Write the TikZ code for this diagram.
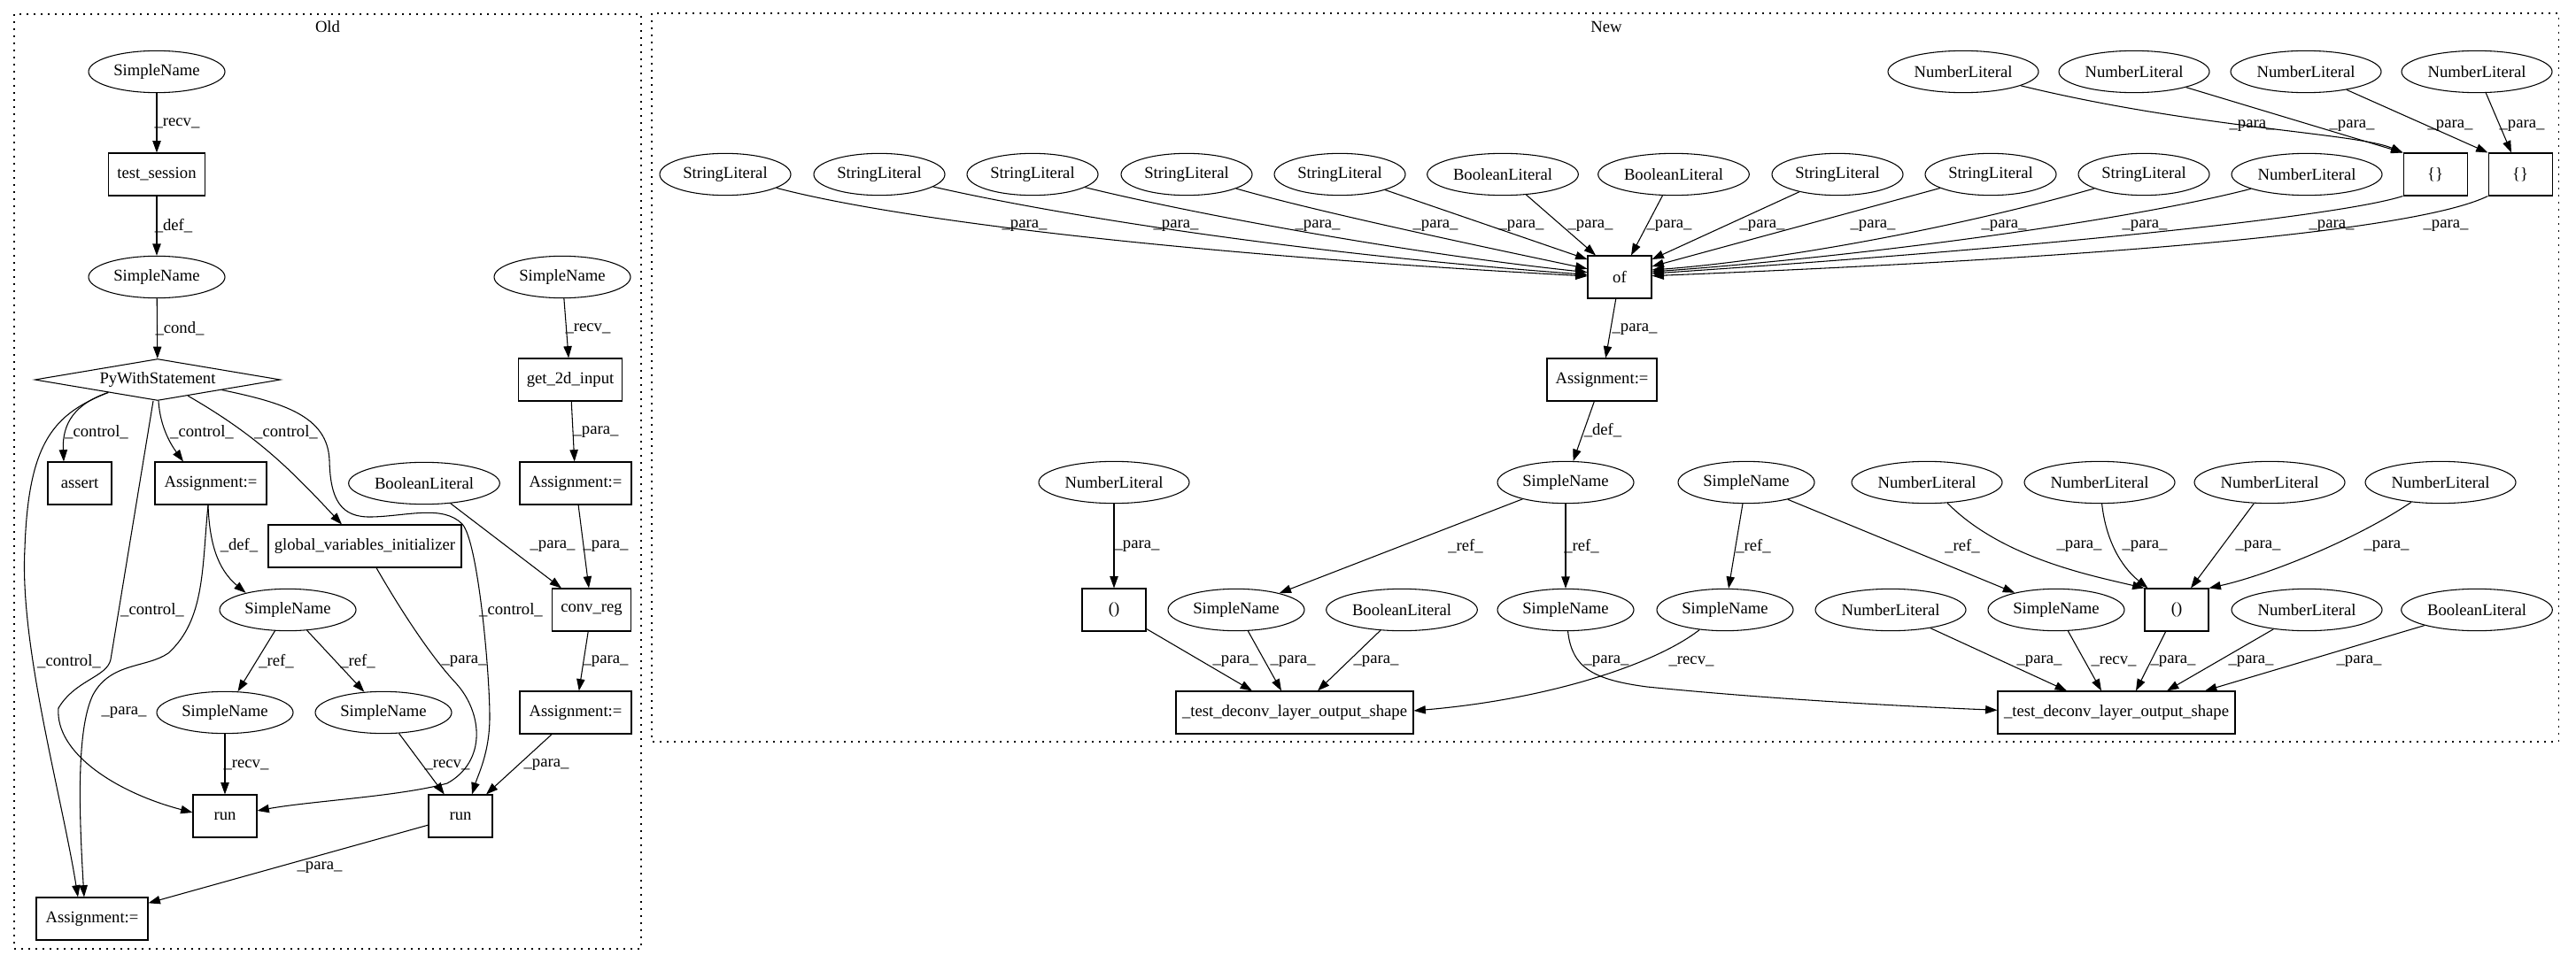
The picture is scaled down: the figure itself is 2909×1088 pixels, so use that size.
\documentclass[tikz,border=0pt]{standalone}
\usepackage{fontspec}
\setmainfont{Liberation Serif}
\usetikzlibrary{shapes.geometric,arrows.meta,calc}
\begin{document}
\begin{tikzpicture}[x=0.75pt,y=-0.75pt,
  every node/.style={font=\fontsize{14pt}{16pt}\selectfont, inner sep=0pt},
  ell/.style={ellipse,draw,line width=0.8pt,minimum height=35.5pt},
  sn/.style={ell,minimum width=115.5pt},
  nl/.style={ell,minimum width=127.5pt},
  sl/.style={ell,minimum width=111pt},
  bl/.style={ell,minimum width=128pt},
  box/.style={rectangle,draw,line width=0.8pt,minimum height=36pt,minimum width=54pt},
  dia/.style={diamond,draw,line width=0.8pt,aspect=5.9,minimum width=208pt,minimum height=35.25pt},
  lbl/.style={fill=none},
  edge/.style={-{Triangle[length=10pt,width=7pt]},line width=0.8pt},
  cluster/.style={draw,line width=0.8pt,dash pattern=on 1.5pt off 4.5pt}
]
\useasboundingbox (0,0) rectangle (2909,1088);
\fill[white] (0,0) rectangle (2909,1088);

% clusters
\draw[cluster] (16,16) rectangle (724,1072);
\node (lold) at (370,30) {Old};
\draw[cluster] (736,15) rectangle (2889,838);
\node (lnew) at (1814,30) {New};

% ---------------- Old ----------------
\node[sn] (o_sn1) at (177,81) {SimpleName};
\node[box,minimum width=81.75pt] (o_ts) at (177,197) {test\_session};
\node[sn] (o_sn2) at (177,313) {SimpleName};
\node[dia] (o_pw) at (178,429) {PyWithStatement};
\node[sn] (o_sn3) at (635,313) {SimpleName};
\node[box,minimum width=87.75pt] (o_g2d) at (644,429) {get\_2d\_input};
\node[box] (o_as) at (90,546) {assert};
\node[box,minimum width=94.5pt] (o_a1) at (238,546) {Assignment:=};
\node[bl] (o_bl) at (479,546) {BooleanLiteral};
\node[box,minimum width=94.5pt] (o_a2) at (650,546) {Assignment:=};
\node[box,minimum width=163.5pt] (o_gvi) at (412,617) {global\_variables\_initializer};
\node[sn] (o_sn4) at (325,689) {SimpleName};
\node[box,minimum width=66.75pt] (o_cr) at (668,689) {conv\_reg};
\node[sn] (o_sn5) at (254,805) {SimpleName};
\node[sn] (o_sn6) at (433,805) {SimpleName};
\node[box,minimum width=94.5pt] (o_a3) at (650,805) {Assignment:=};
\node[box] (o_run1) at (254,922) {run};
\node[box] (o_run2) at (520,922) {run};
\node[box,minimum width=94.5pt] (o_a4) at (104,1038) {Assignment:=};

\draw[edge] (o_sn1) -- (o_ts) node[lbl] at (200,139) {\_recv\_};
\draw[edge] (o_ts) -- (o_sn2) node[lbl] at (196,255) {\_def\_};
\draw[edge] (o_sn2) -- (o_pw) node[lbl] at (203,371) {\_cond\_};
\draw[edge] (o_sn3) -- (o_g2d) node[lbl] at (664,371) {\_recv\_};
\draw[edge] (o_g2d) -- (o_a2) node[lbl] at (673,488) {\_para\_};

\draw[edge] ($(o_pw.west)!0.6!(o_pw.south)$) .. controls (85,456) and (70,478) .. ([xshift=-13.5pt]o_as.north)
  node[lbl] at (109,488) {\_control\_};
\draw[edge] ([xshift=0.75pt]o_pw.south) .. controls (181,485) and (195,505) .. ([xshift=-23.25pt]o_a1.north)
  node[lbl] at (228,488) {\_control\_};
\draw[edge] ($(o_pw.south)!0.245!(o_pw.east)$) to[out=-30,in=133] ([xshift=-19.5pt]o_gvi.north)
  node[lbl] at (323,488) {\_control\_};
\draw[edge] ($(o_pw.south)!0.52!(o_pw.east)$) .. controls (320,455) and (370,470) .. (372,520)
  .. controls (373,565) and (385,585) .. (420,584)
  .. controls (460,583) and (500,570) .. (522,592)
  .. controls (540,612) and (553,760) .. (553,810)
  .. controls (553,850) and (540,875) .. ([xshift=9.75pt]o_run2.north)
  node[lbl] at (577,689) {\_control\_};
\draw[edge] ([xshift=-3.75pt]o_pw.south) -- (125,745)
  .. controls (121,765) and (85,768) .. (66,800)
  .. controls (62,850) and (130,895) .. ([yshift=3pt]o_run1.west)
  node[lbl] at (172,689) {\_control\_};
\draw[edge] ($(o_pw.west)!0.6!(o_pw.south)$) .. controls (60,468) and (32,500) .. (28,620)
  .. controls (22,730) and (70,900) .. ([xshift=-12pt]o_a4.north)
  node[lbl] at (78,747) {\_control\_};

\draw[edge] ([xshift=-2.25pt]o_a1.south) to[out=-88,in=140] (o_sn4.158)
  node[lbl] at (270,616) {\_def\_};
\draw[edge] ([xshift=-2.25pt]o_a1.south) .. controls (228,640) and (232,700) .. (190,738)
  .. controls (165,755) and (125,748) .. (105,785)
  .. controls (88,820) and (88,900) .. ([xshift=-6.75pt]o_a4.north)
  node[lbl] at (140,805) {\_para\_};
\draw[edge] ([xshift=9.75pt]o_gvi.south) .. controls (450,685) and (485,740) .. (515,772)
  .. controls (545,805) and (550,860) .. (505,885)
  .. controls (450,900) and (350,905) .. ([yshift=4.5pt]o_run1.east)
  node[lbl] at (524,747) {\_para\_};
\draw[edge] (o_bl) -- ([xshift=-25.5pt]o_cr.north) node[lbl] at (624,617) {\_para\_};
\draw[edge] (o_a2) -- ([xshift=-2.25pt]o_cr.north) node[lbl] at (684,617) {\_para\_};
\draw[edge] (o_cr) -- (o_a3) node[lbl] at (684,747) {\_para\_};
\draw[edge] (o_a3) -- ([xshift=21.75pt]o_run2.north) node[lbl] at (617,864) {\_para\_};
\draw[edge] (o_sn4) -- (o_sn5) node[lbl] at (312,747) {\_ref\_};
\draw[edge] (o_sn4) -- (o_sn6) node[lbl] at (404,747) {\_ref\_};
\draw[edge] (o_sn5) -- (o_run1) node[lbl] at (278,864) {\_recv\_};
\draw[edge] (o_sn6) -- (o_run2) node[lbl] at (505,864) {\_recv\_};
\draw[edge] (o_run2) -- (o_a4) node[lbl] at (361,980) {\_para\_};

% ---------------- New ----------------
\node[sl] (n_sl1) at (819,197) {StringLiteral};
\node[sl] (n_sl2) at (993,197) {StringLiteral};
\node[sl] (n_sl3) at (1166,197) {StringLiteral};
\node[sl] (n_sl4) at (1340,197) {StringLiteral};
\node[sl] (n_sl5) at (1513,197) {StringLiteral};
\node[bl] (n_bl1) at (1697,197) {BooleanLiteral};
\node[bl] (n_bl2) at (1890,197) {BooleanLiteral};
\node[sl] (n_sl6) at (2075,197) {StringLiteral};
\node[sl] (n_sl7) at (2248,197) {StringLiteral};
\node[sl] (n_sl8) at (2421,197) {StringLiteral};
\node[nl] (n_nl0) at (2605,197) {NumberLiteral};
\node[nl] (n_nl1) at (2217,81) {NumberLiteral};
\node[nl] (n_nl2) at (2410,81) {NumberLiteral};
\node[nl] (n_nl3) at (2604,81) {NumberLiteral};
\node[nl] (n_nl4) at (2797,81) {NumberLiteral};
\node[box] (n_br1) at (2750,197) {\{\}};
\node[box] (n_br2) at (2846,197) {\{\}};
\node[box] (n_of) at (1829,313) {of};
\node[box,minimum width=93pt] (n_as) at (1809,429) {Assignment:=};
\node[sn] (n_sn1) at (1768,545) {SimpleName};
\node[nl] (n_nla) at (1258,545) {NumberLiteral};
\node[sn] (n_sn5) at (1972,545) {SimpleName};
\node[nl] (n_nlb) at (2176,545) {NumberLiteral};
\node[nl] (n_nlc) at (2371,545) {NumberLiteral};
\node[nl] (n_nld) at (2563,545) {NumberLiteral};
\node[nl] (n_nle) at (2756,545) {NumberLiteral};
\node[box] (n_p1) at (1258,689) {()};
\node[sn] (n_sn2) at (1396,689) {SimpleName};
\node[bl] (n_bl3) at (1583,689) {BooleanLiteral};
\node[sn] (n_sn4) at (1768,689) {SimpleName};
\node[sn] (n_sn6) at (1948,689) {SimpleName};
\node[nl] (n_nl7) at (2135,689) {NumberLiteral};
\node[sn] (n_sn8) at (2322,689) {SimpleName};
\node[box] (n_p2) at (2458,689) {()};
\node[nl] (n_nl9) at (2605,689) {NumberLiteral};
\node[bl] (n_bl10) at (2797,689) {BooleanLiteral};
\node[box,minimum width=201pt] (n_t1) at (1462,805) {\_test\_deconv\_layer\_output\_shape};
\node[box,minimum width=201pt] (n_t2) at (2390,805) {\_test\_deconv\_layer\_output\_shape};

% into of
\draw[edge] (n_sl1) .. controls (1000,245) and (1300,285) .. ([yshift=0.75pt]n_of.west) node[lbl] at (1157,255) {\_para\_};
\draw[edge] (n_sl2) .. controls (1180,240) and (1450,285) .. ([yshift=2pt]n_of.west) node[lbl] at (1328,255) {\_para\_};
\draw[edge] (n_sl3) .. controls (1340,240) and (1580,285) .. ([yshift=4pt]n_of.west) node[lbl] at (1488,255) {\_para\_};
\draw[edge] (n_sl4) .. controls (1490,240) and (1680,280) .. ([yshift=7pt]n_of.west) node[lbl] at (1621,255) {\_para\_};
\draw[edge] (n_sl5) -- ([yshift=15pt]n_of.west) node[lbl] at (1718,255) {\_para\_};
\draw[edge] (n_bl1) -- ([xshift=-20.25pt]n_of.north) node[lbl] at (1796,255) {\_para\_};
\draw[edge] (n_bl2) -- ([xshift=9.75pt]n_of.north) node[lbl] at (1885,255) {\_para\_};
\draw[edge] (n_sl6) -- ([yshift=15pt]n_of.east) node[lbl] at (1990,255) {\_para\_};
\draw[edge] (n_sl7) -- ([yshift=9pt]n_of.east) node[lbl] at (2115,255) {\_para\_};
\draw[edge] (n_sl8) .. controls (2200,260) and (2000,295) .. ([yshift=6pt]n_of.east) node[lbl] at (2263,255) {\_para\_};
\draw[edge] (n_nl0) .. controls (2400,250) and (2100,290) .. ([yshift=4.5pt]n_of.east) node[lbl] at (2422,255) {\_para\_};
\draw[edge] (n_br1.south west) .. controls (2640,245) and (2300,280) .. ([yshift=3pt]n_of.east) node[lbl] at (2633,255) {\_para\_};
\draw[edge] (n_br2.south west) .. controls (2730,260) and (2400,290) .. ([yshift=1pt]n_of.east) node[lbl] at (2762,255) {\_para\_};

% into {}
\draw[edge] (n_nl1) .. controls (2480,145) and (2660,150) .. (n_br1.north west) node[lbl] at (2543,142) {\_para\_};
\draw[edge] (n_nl2) -- (n_br1.north west) node[lbl] at (2656,142) {\_para\_};
\draw[edge] (n_nl3) -- (n_br2.north west) node[lbl] at (2767,142) {\_para\_};
\draw[edge] (n_nl4) -- ([xshift=-7.5pt]n_br2.north) node[lbl] at (2848,142) {\_para\_};

\draw[edge] (n_of) -- (n_as) node[lbl] at (1846,372) {\_para\_};
\draw[edge] (n_as) -- (n_sn1) node[lbl] at (1810,486) {\_def\_};
\draw[edge] (n_sn1) -- (n_sn2) node[lbl] at (1655,617) {\_ref\_};
\draw[edge] (n_sn1) -- (n_sn4) node[lbl] at (1786,617) {\_ref\_};
\draw[edge] (n_nla) -- (n_p1) node[lbl] at (1284,617) {\_para\_};
\draw[edge] (n_sn5) -- (n_sn6) node[lbl] at (1980,617) {\_ref\_};
\draw[edge] (n_sn5) -- (n_sn8) node[lbl] at (2216,617) {\_ref\_};

% into ()2
\draw[edge] (n_nlb) .. controls (2260,630) and (2360,650) .. (n_p2.north west) node[lbl] at (2348,617) {\_para\_};
\draw[edge] (n_nlc) .. controls (2378,610) and (2395,640) .. ([xshift=3pt]n_p2.north west) node[lbl] at (2422,617) {\_para\_};
\draw[edge] (n_nld) -- ([xshift=12pt]n_p2.north) node[lbl] at (2550,617) {\_para\_};
\draw[edge] (n_nle) .. controls (2660,610) and (2560,650) .. (n_p2.north east) node[lbl] at (2695,617) {\_para\_};

% into t1
\draw[edge] (n_p1) -- ([xshift=-36pt]n_t1.north) node[lbl] at (1395,747) {\_para\_};
\draw[edge] (n_sn2) -- ([xshift=-11.25pt]n_t1.north) node[lbl] at (1460,747) {\_para\_};
\draw[edge] (n_bl3) -- ([xshift=19.5pt]n_t1.north) node[lbl] at (1554,747) {\_para\_};
\draw[edge] (n_sn6) .. controls (1870,750) and (1750,790) .. ([yshift=1.5pt]n_t1.east) node[lbl] at (1910,747) {\_recv\_};

% into t2
\draw[edge] (n_sn4) .. controls (1775,755) and (1800,768) .. (1860,776)
  .. controls (2000,790) and (2150,798) .. ([yshift=2pt]n_t2.west) node[lbl] at (1814,747) {\_para\_};
\draw[edge] (n_nl7) -- ([xshift=-42pt]n_t2.north) node[lbl] at (2303,747) {\_para\_};
\draw[edge] (n_sn8) -- ([xshift=-12.75pt]n_t2.north) node[lbl] at (2387,747) {\_recv\_};
\draw[edge] (n_p2) -- ([xshift=16.5pt]n_t2.north) node[lbl] at (2454,747) {\_para\_};
\draw[edge] (n_nl9) -- ([xshift=42.75pt]n_t2.north) node[lbl] at (2542,747) {\_para\_};
\draw[edge] (n_bl10) -- ([xshift=75pt]n_t2.north) node[lbl] at (2664,747) {\_para\_};
\end{tikzpicture}
\end{document}
